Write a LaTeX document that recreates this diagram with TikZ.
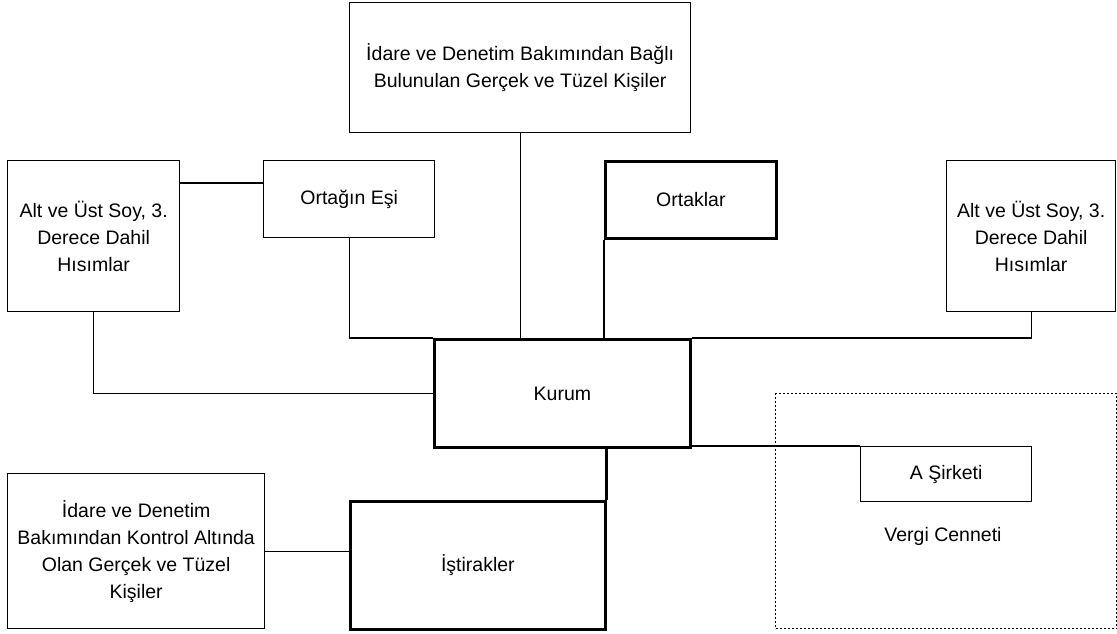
\documentclass[tikz,border=0pt]{standalone}
\usepackage{fontspec}
\setmainfont{Liberation Sans}
\begin{document}
\begin{tikzpicture}[x=1pt,y=1pt,
  boxbase/.style={draw=black, fill=white, inner sep=0pt,
    align=center, anchor=north west, font=\fontsize{19.5}{27}\selectfont},
  box/.style={boxbase, line width=1.3pt},
  boldbox/.style={boxbase, line width=2.8pt},
  zone/.style={draw=black, line width=1.3pt, dash pattern=on 2pt off 2pt, inner sep=0pt,
    anchor=north west},
  link/.style={draw=black, line width=1.3pt},
  boldlink/.style={draw=black, line width=2.8pt},
  plain/.style={inner sep=0pt, font=\fontsize{19.5}{27}\selectfont}]
\useasboundingbox (0,0) rectangle (1117,-633);

% tax haven zone
\node[zone, minimum width=341pt, minimum height=235pt] (zone) at (775,-393) {};
\node[plain] (zonelabel) at (943,-536) {Vergi Cenneti};

% boxes
\node[box, minimum width=341pt, minimum height=130pt] (top) at (349,-2)
  {İdare ve Denetim Bakımından Bağlı\\Bulunulan Gerçek ve Tüzel Kişiler};
\node[box, minimum width=172pt, minimum height=151pt] (lh) at (7,-160)
  {Alt ve Üst Soy, 3.\\Derece Dahil\\Hısımlar};
\node[box, minimum width=171pt, minimum height=77pt] (esi) at (263,-160) {Ortağın Eşi};
\node[boldbox, minimum width=171pt, minimum height=77pt] (ort) at (604,-160) {Ortaklar};
\node[box, minimum width=169pt, minimum height=151pt] (rh) at (946,-160)
  {Alt ve Üst Soy, 3.\\Derece Dahil\\Hısımlar};
\node[boldbox, minimum width=256pt, minimum height=108pt] (kurum) at (433,-338) {Kurum};
\node[box, minimum width=171pt, minimum height=55pt] (asir) at (860,-446) {A Şirketi};
\node[box, minimum width=257pt, minimum height=155pt] (bl) at (7,-473)
  {İdare ve Denetim\\Bakımından Kontrol Altında\\Olan Gerçek ve Tüzel\\Kişiler};
\node[boldbox, minimum width=255pt, minimum height=128pt] (ist) at (349,-500) {İştirakler};

% connectors
\draw[link] (lh.south) -- (lh.south |- kurum.west) -- (kurum.west);
\draw[link] ([yshift=-23pt]lh.north east) -- ([yshift=-23pt]esi.north west);
\draw[link] (esi.south) -- (esi.south |- kurum.north) -- (kurum.north west);
\draw[link] (top.south) -- (top.south |- kurum.north);
\draw[boldlink] (ort.south west) -- (ort.south west |- kurum.north);
\draw[link] (rh.south) -- (rh.south |- kurum.north) -- (kurum.north east);
\draw[link] (asir.north west -| kurum.east) -- (asir.north west);
\draw[boldlink] (ist.north east |- kurum.south) -- (ist.north east);
\draw[link] (bl.east) -- (ist.west |- bl.east);
\end{tikzpicture}
\end{document}
